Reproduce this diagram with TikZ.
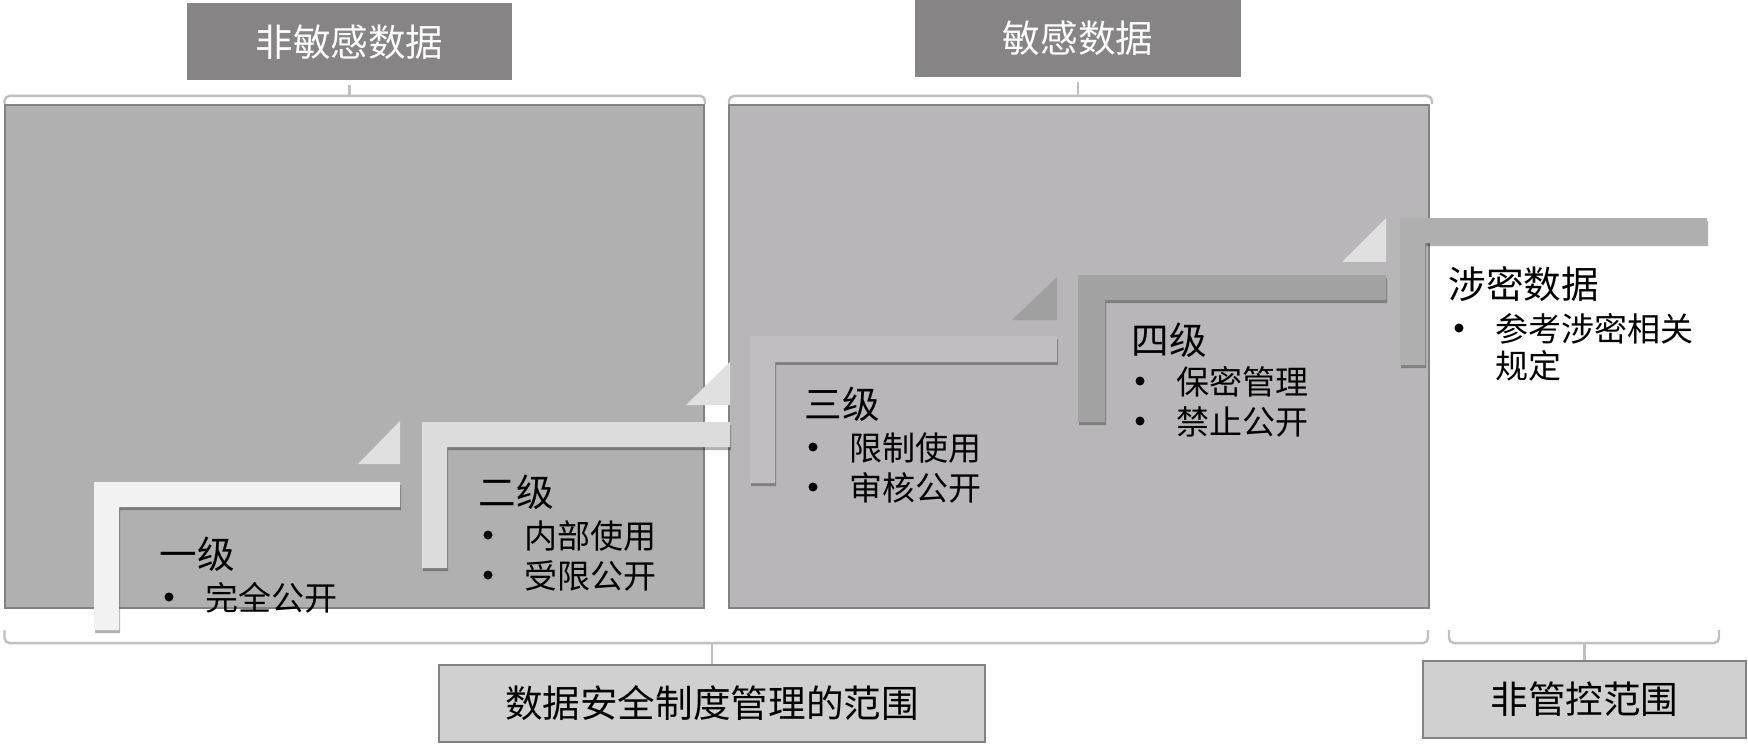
\documentclass[tikz,border=0pt]{standalone}
\usepackage{fontspec}
\newfontfamily\cjk{Noto Sans CJK SC}
\usepackage{tikz}
\usetikzlibrary{positioning,calc,shadows}
\definecolor{dsHead}{HTML}{868484}
\definecolor{dsFoot}{HTML}{D0D0D0}
\definecolor{dsEdge}{HTML}{828282}
\definecolor{dsBrace}{HTML}{C0C0C0}
\definecolor{dsPanelL}{HTML}{B0B0B0}
\definecolor{dsPanelR}{HTML}{B8B6B8}
\definecolor{dsStepA}{HTML}{F2F2F2}
\definecolor{dsStepB}{HTML}{DCDCDC}
\definecolor{dsStepC}{HTML}{C0BEC0}
\definecolor{dsStepD}{HTML}{A3A3A3}
\definecolor{dsStepE}{HTML}{AFAFAF}
\definecolor{dsTriLight}{HTML}{E0E0E0}
\definecolor{dsTriDark}{HTML}{A0A0A0}

\begin{document}
\begin{tikzpicture}[
  panel/.style={draw=dsEdge,line width=0.6pt,inner sep=0pt},
  tag/.style={inner sep=0pt,minimum width=3.25cm,minimum height=0.77cm,
    font=\cjk\fontsize{10.7}{12}\selectfont},
  head/.style={tag,fill=dsHead,text=white},
  foot/.style={tag,fill=dsFoot,draw=dsEdge,line width=0.6pt},
  brace/.style={draw=dsBrace,line width=0.7pt,rounded corners=0.05cm},
  stair/.style={drop shadow={shadow xshift=0.01cm,shadow yshift=-0.03cm,
    opacity=0.3,fill=black}},
  lvl/.style={anchor=west,inner sep=0pt,font=\cjk\fontsize{10.7}{12}\selectfont},
  item/.style={anchor=west,inner sep=0pt,font=\cjk\fontsize{9.4}{11}\selectfont}
]
\useasboundingbox (0,0) rectangle (17.48,7.44);
% panels
\node[panel,fill=dsPanelL,minimum width=6.99cm,minimum height=5.03cm] (lpanel) at (3.545,3.875) {};
\node[panel,fill=dsPanelR,minimum width=7.0cm,minimum height=5.03cm] (rpanel) at (10.79,3.875) {};
% headers and footers
\node[head] (nonsens) at (3.495,7.02) {非敏感数据};
\node[head,minimum width=3.26cm] (sens) at (10.78,7.055) {敏感数据};
\node[foot,minimum width=5.46cm] (scope) at (7.12,0.405) {数据安全制度管理的范围};
\node[foot,minimum width=3.23cm] (free) at (15.845,0.445) {非管控范围};
% braces
\coordinate (bnonsens) at ([yshift=0.08cm]nonsens.south |- lpanel.north);
\coordinate (bsens) at ([yshift=0.08cm]sens.south |- rpanel.north);
\coordinate (bscope) at ([yshift=-0.34cm]scope.north |- lpanel.south);
\coordinate (bfree) at ([yshift=-0.34cm]free.north |- rpanel.south);
\draw[brace] (0.045,6.40) |- (bnonsens) -| (7.05,6.40);
\draw[brace] (7.29,6.40) |- (bsens) -| (14.32,6.40);
\draw[brace] (0.045,1.14) |- (bscope) -| (14.28,1.14);
\draw[brace] (14.49,1.14) |- (bfree) -| (17.19,1.14);
\draw[brace] (bnonsens) -- ([yshift=-0.04cm]nonsens.south);
\draw[brace] (bsens) -- ([yshift=-0.04cm]sens.south);
\draw[brace] (bscope) -- (scope.north);
\draw[brace] (bfree) -- (free.north);
% corner triangles
\fill[dsTriLight] (3.58,2.80) -- (4.00,2.80) -- (4.00,3.23) -- cycle;
\fill[dsTriLight] (6.86,3.39) -- (7.30,3.39) -- (7.30,3.82) -- cycle;
\fill[dsTriDark] (10.12,4.24) -- (10.57,4.24) -- (10.57,4.67) -- cycle;
\fill[dsTriLight] (13.42,4.82) -- (13.86,4.82) -- (13.86,5.26) -- cycle;
% stairs
\fill[stair,dsStepA] (0.94,2.62) -- ++(3.06,0) -- ++(0,-0.25) -- ++(-2.81,0) -- ++(0,-1.23) -- ++(-0.25,0) -- cycle;
\fill[stair,dsStepB] (4.22,3.22) -- ++(3.08,0) -- ++(0,-0.25) -- ++(-2.83,0) -- ++(0,-1.21) -- ++(-0.25,0) -- cycle;
\fill[stair,dsStepC] (7.50,4.08) -- ++(3.07,0) -- ++(0,-0.26) -- ++(-2.82,0) -- ++(0,-1.21) -- ++(-0.25,0) -- cycle;
\fill[stair,dsStepD] (10.78,4.69) -- ++(3.08,0) -- ++(0,-0.25) -- ++(-2.81,0) -- ++(0,-1.22) -- ++(-0.27,0) -- cycle;
\fill[stair,dsStepE] (14.00,5.26) -- ++(3.07,0) -- ++(0,-0.25) -- ++(-2.82,0) -- ++(0,-1.22) -- ++(-0.25,0) -- cycle;
% levels
\node[lvl] (lv1) at (1.59,1.90) {一级};
\node[item] (lv1a) at ([xshift=0.46cm,yshift=-0.44cm]lv1.west) {完全公开};
\node[lvl] (lv2) at (4.78,2.52) {二级};
\node[item] (lv2a) at ([xshift=0.46cm,yshift=-0.44cm]lv2.west) {内部使用};
\node[item] (lv2b) at ([yshift=-0.40cm]lv2a.west) {受限公开};
\node[lvl] (lv3) at (8.04,3.40) {三级};
\node[item] (lv3a) at ([xshift=0.45cm,yshift=-0.44cm]lv3.west) {限制使用};
\node[item] (lv3b) at ([yshift=-0.40cm]lv3a.west) {审核公开};
\node[lvl] (lv4) at (11.31,4.04) {四级};
\node[item] (lv4a) at ([xshift=0.45cm,yshift=-0.42cm]lv4.west) {保密管理};
\node[item] (lv4b) at ([yshift=-0.40cm]lv4a.west) {禁止公开};
\node[lvl] (lv5) at (14.48,4.60) {涉密数据};
\node[item] (lv5a) at ([xshift=0.47cm,yshift=-0.45cm]lv5.west) {参考涉密相关};
\node[item] (lv5b) at ([yshift=-0.37cm]lv5a.west) {规定};
% bullets
\foreach \t in {lv1a,lv2a,lv2b,lv3a,lv3b,lv4a,lv4b,lv5a}
  \fill ([xshift=-0.36cm,yshift=0.01cm]\t.west) circle (0.045cm);
\end{tikzpicture}
\end{document}
